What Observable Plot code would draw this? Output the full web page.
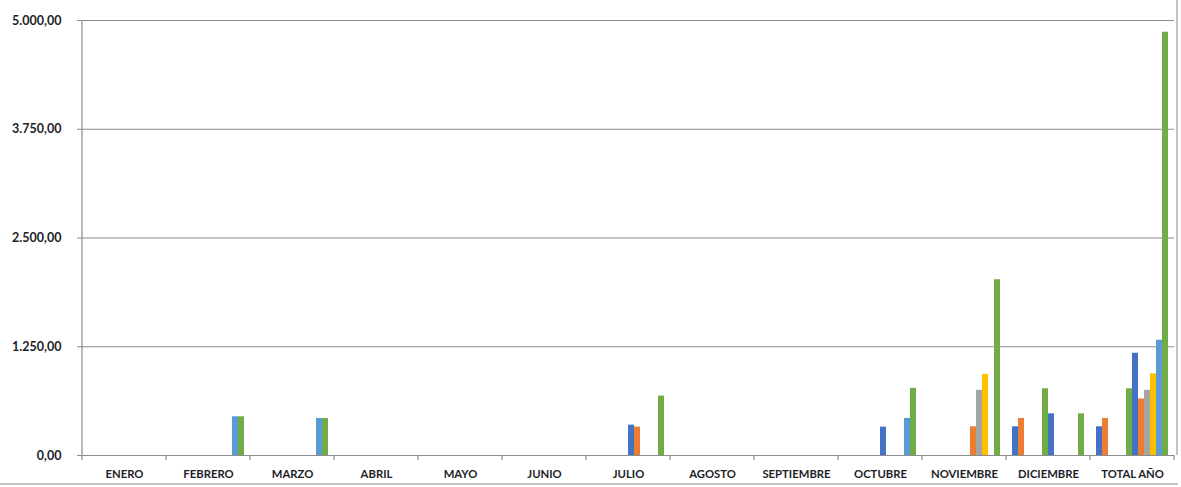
<!DOCTYPE html>
<html>
<head>
<meta charset="utf-8">
<script src="https://cdn.jsdelivr.net/npm/d3@7"></script>
<script src="https://cdn.jsdelivr.net/npm/@observablehq/plot@0.6"></script>
<style>
  html, body { margin: 0; padding: 0; background: #fff; }
  #chart { width: 1181px; height: 487px; overflow: hidden; }
</style>
</head>
<body>
<div id="chart"></div>
<script>
// Categories (x axis)
const months = ["ENERO", "FEBRERO", "MARZO", "ABRIL", "MAYO", "JUNIO", "JULIO",
  "AGOSTO", "SEPTIEMBRE", "OCTUBRE", "NOVIEMBRE", "DICIEMBRE", "TOTAL AÑO"];

// Series names (no legend in the original)
const seriesNames = ["Serie 1", "Serie 2", "Serie 3", "Serie 4", "Serie 5", "Serie 6",
  "Serie 7", "Serie 8", "Serie 9", "Serie 10", "Serie 11", "Serie 12"];

// Series colours (Office palette, repeating)
const seriesColors = ["#4472C4", "#ED7D31", "#A5A5A5", "#FFC000", "#5B9BD5", "#70AD47",
  "#4472C4", "#ED7D31", "#A5A5A5", "#FFC000", "#5B9BD5", "#70AD47"];

// Values per series, one per month (ENERO .. TOTAL AÑO)
const serie1  = [0, 0, 0, 0, 0, 0, 0, 0, 0, 0, 0, 330, 330];
const serie2  = [0, 0, 0, 0, 0, 0, 0, 0, 0, 0, 0, 426, 426];
const serie3  = [0, 0, 0, 0, 0, 0, 0, 0, 0, 0, 0, 0, 0];
const serie4  = [0, 0, 0, 0, 0, 0, 0, 0, 0, 0, 0, 0, 0];
const serie5  = [0, 0, 0, 0, 0, 0, 0, 0, 0, 0, 0, 0, 0];
const serie6  = [0, 0, 0, 0, 0, 0, 0, 0, 0, 0, 0, 767, 767];
const serie7  = [0, 0, 0, 0, 0, 0, 349, 0, 0, 326, 0, 479, 1175];
const serie8  = [0, 0, 0, 0, 0, 0, 326, 0, 0, 0, 330, 0, 650];
const serie9  = [0, 0, 0, 0, 0, 0, 0, 0, 0, 0, 749, 0, 749];
const serie10 = [0, 0, 0, 0, 0, 0, 0, 0, 0, 0, 933, 0, 938];
const serie11 = [0, 445, 426, 0, 0, 0, 0, 0, 0, 426, 0, 0, 1325];
const serie12 = [0, 445, 426, 0, 0, 0, 683, 0, 0, 772, 2020, 479, 4865];

const seriesValues = [serie1, serie2, serie3, serie4, serie5, serie6,
  serie7, serie8, serie9, serie10, serie11, serie12];

// Y axis ticks
const yTicks = [0, 1250, 2500, 3750, 5000];

// Keep zero values so every category facet exists
const data = months.flatMap((m, i) =>
  seriesValues.map((vals, k) => ({ month: m, serie: seriesNames[k], value: vals[i] }))
);

const locale = d3.formatLocale({ decimal: ",", thousands: ".", grouping: [3], currency: ["", ""] });
const fmt = locale.format(",.2f");

const gridColor = "#8c8c8c";
const textColor = "#1e1e28";

const plot = Plot.plot({
  width: 1181,
  height: 487,
  marginLeft: 82,
  marginRight: 7,
  marginTop: 20,
  marginBottom: 32,
  style: { fontFamily: "Lato, sans-serif", fontSize: "11px", color: textColor, background: "white", overflow: "visible" },
  fx: { domain: months, padding: 0, label: null },
  x: { domain: seriesNames, paddingInner: 0, paddingOuter: 0.75, axis: null },
  y: { domain: [0, 5000], label: null },
  color: { domain: seriesNames, range: seriesColors },
  marks: [
    Plot.gridY(yTicks, { stroke: gridColor, strokeOpacity: 1, strokeWidth: 1.2 }),
    Plot.axisY(yTicks, { facetAnchor: "left", tickFormat: fmt, tickSize: 5, tickPadding: 16, stroke: gridColor, fill: textColor, fontSize: 12.5, fontWeight: "bold", label: null }),
    Plot.axisFx({ anchor: "bottom", tickSize: 0, tickPadding: 14, fill: textColor, fontSize: 11.3, fontWeight: "bold", label: null }),
    Plot.barY(data, { fx: "month", x: "serie", y: "value", fill: "serie", inset: 0 }),
    Plot.ruleY([0], { stroke: gridColor, strokeWidth: 1.2 })
  ]
});

document.getElementById("chart").appendChild(plot);

// Decorations using the plot's own scales: category boundary ticks, axis line, frame
const fxs = plot.scale("fx");
const ys = plot.scale("y");
const svg = d3.select(plot);
const y0 = ys.apply(0);
const yTop = ys.apply(5000);
const xStart = fxs.apply(months[0]);
const xEnd = fxs.apply(months[months.length - 1]) + fxs.bandwidth;
const g = svg.append("g").attr("stroke", gridColor).attr("stroke-width", 1.2).attr("fill", "none");
months.forEach(m => {
  const x = fxs.apply(m);
  g.append("line").attr("x1", x).attr("x2", x).attr("y1", y0).attr("y2", y0 + 5);
});
g.append("line").attr("x1", xEnd).attr("x2", xEnd).attr("y1", y0).attr("y2", y0 + 5);
g.append("line").attr("x1", xStart).attr("x2", xStart).attr("y1", yTop).attr("y2", y0);
// outer chart border (right and bottom)
const b = svg.append("g").attr("stroke", "#b0b0b0").attr("stroke-width", 1.5).attr("fill", "none");
b.append("line").attr("x1", xEnd + 3).attr("x2", xEnd + 3).attr("y1", 0).attr("y2", y0);
b.append("line").attr("x1", 0).attr("x2", xEnd + 4).attr("y1", 484).attr("y2", 484);
</script>
</body>
</html>
